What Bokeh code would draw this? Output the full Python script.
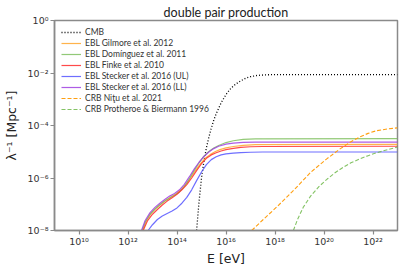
import numpy as np
from bokeh.plotting import figure
from bokeh.models import FixedTicker, Legend, LegendItem
from bokeh.embed import file_html
from bokeh.resources import INLINE

# ---- data (log10 of energy in eV, log10 of inverse mean free path in Mpc^-1) ----
cmb_logE = [14.80, 14.9, 15.0, 15.1, 15.2, 15.3, 15.4, 15.5, 15.6, 15.8, 16.0, 16.2, 16.4, 16.6, 16.8, 17.0, 17.3, 17.6, 18.0, 23.0]
cmb_logL = [-8.0, -6.9, -6.0, -5.35, -4.85, -4.45, -4.1, -3.8, -3.55, -3.14, -2.82, -2.58, -2.42, -2.30, -2.20, -2.14, -2.09, -2.07, -2.06, -2.06]

gil_logE = [12.6, 12.75, 12.95, 13.15, 13.35, 13.55, 13.75, 13.95, 14.15, 14.35, 14.55, 14.75, 14.95, 15.15, 15.35, 15.55, 15.75, 16.0, 16.3, 16.7, 17.2, 23.0]
gil_logL = [-8.0, -7.62, -7.34, -7.15, -6.99, -6.85, -6.72, -6.61, -6.46, -6.26, -6.00, -5.72, -5.46, -5.25, -5.11, -5.00, -4.92, -4.85, -4.80, -4.76, -4.73, -4.72]

dom_logE = [12.58, 12.7, 12.9, 13.1, 13.3, 13.5, 13.7, 13.9, 14.1, 14.3, 14.5, 14.7, 14.9, 15.1, 15.3, 15.5, 15.7, 16.0, 16.3, 16.7, 17.2, 23.0]
dom_logL = [-8.0, -7.68, -7.38, -7.18, -7.02, -6.88, -6.76, -6.66, -6.53, -6.32, -6.04, -5.72, -5.42, -5.17, -4.99, -4.86, -4.76, -4.65, -4.58, -4.53, -4.51, -4.50]

fin_logE = [12.62, 12.8, 13.0, 13.2, 13.4, 13.6, 13.8, 14.0, 14.2, 14.4, 14.6, 14.8, 15.0, 15.2, 15.4, 15.6, 15.8, 16.0, 16.3, 16.6, 17.0, 17.5, 23.0]
fin_logL = [-8.0, -7.62, -7.38, -7.20, -7.03, -6.88, -6.75, -6.62, -6.45, -6.25, -6.00, -5.72, -5.45, -5.25, -5.12, -5.04, -4.97, -4.92, -4.87, -4.83, -4.81, -4.80, -4.79]

ul_logE = [12.82, 13.0, 13.2, 13.4, 13.6, 13.8, 14.0, 14.2, 14.4, 14.6, 14.8, 15.0, 15.2, 15.4, 15.6, 15.8, 16.0, 16.3, 16.6, 17.0, 17.5, 23.0]
ul_logL = [-8.0, -7.78, -7.58, -7.45, -7.35, -7.26, -7.14, -6.96, -6.74, -6.45, -6.10, -5.77, -5.49, -5.30, -5.19, -5.12, -5.08, -5.05, -5.03, -5.02, -5.01, -5.01]

ll_logE = [12.55, 12.7, 12.9, 13.1, 13.3, 13.5, 13.7, 13.9, 14.1, 14.3, 14.5, 14.7, 14.9, 15.1, 15.3, 15.5, 15.7, 16.0, 16.3, 16.7, 17.2, 23.0]
ll_logL = [-8.0, -7.62, -7.32, -7.12, -6.96, -6.82, -6.69, -6.59, -6.45, -6.24, -5.96, -5.66, -5.40, -5.18, -5.01, -4.88, -4.79, -4.71, -4.67, -4.64, -4.63, -4.63]

nitu_logE = [17.05, 17.5, 18.12, 18.8, 19.46, 20.1, 20.67, 21.1, 21.47, 21.8, 22.14, 22.6, 23.0]
nitu_logL = [-8.0, -7.6, -7.06, -6.43, -5.78, -5.28, -4.88, -4.62, -4.43, -4.30, -4.20, -4.13, -4.09]

prot_logE = [18.75, 18.92, 19.15, 19.46, 19.8, 20.13, 20.45, 20.8, 21.1, 21.47, 21.8, 22.14, 22.6, 23.0]
prot_logL = [-8.0, -7.58, -7.12, -6.68, -6.32, -6.04, -5.80, -5.58, -5.42, -5.27, -5.15, -5.04, -4.92, -4.82]

series_labels = ["CMB", "EBL Gilmore et al. 2012", "EBL Domínguez et al. 2011",
                 "EBL Finke et al. 2010", "EBL Stecker et al. 2016 (UL)",
                 "EBL Stecker et al. 2016 (LL)", "CRB Niţu et al. 2021",
                 "CRB Protheroe & Biermann 1996"]

x_ticks = [1e10, 1e12, 1e14, 1e16, 1e18, 1e20, 1e22]
x_tick_labels = ["10¹⁰", "10¹²", "10¹⁴", "10¹⁶", "10¹⁸", "10²⁰", "10²²"]
y_ticks = [1e-8, 1e-6, 1e-4, 1e-2, 1e0]
y_tick_labels = ["10⁻⁸", "10⁻⁶", "10⁻⁴", "10⁻²", "10⁰"]

FONT = "Lato"
TICKFONT = "DejaVu Sans"
GRAY = "#8a8a8a"

p = figure(width=399, height=268, x_axis_type="log", y_axis_type="log",
           x_range=(1e9, 1e23), y_range=(1e-8, 1e0),
           output_backend="svg", toolbar_location=None,
           title="double pair production",
           min_border_left=48, min_border_right=2, min_border_top=20, min_border_bottom=34)

p.title.align = "center"
p.title.text_font = FONT
p.title.text_font_size = "12.5px"
p.title.text_font_style = "normal"
p.title.text_color = "#222222"
p.title.offset = 0
p.title.standoff = 2

p.xgrid.visible = False
p.ygrid.visible = False
p.outline_line_color = GRAY
p.outline_line_width = 1.5
p.background_fill_color = "white"
p.border_fill_color = "white"

for ax in (p.xaxis[0], p.yaxis[0]):
    ax.axis_line_color = GRAY
    ax.axis_line_width = 1.5
    ax.major_tick_line_color = GRAY
    ax.major_tick_line_width = 1.2
    ax.major_tick_out = 4
    ax.major_tick_in = 0
    ax.minor_tick_line_color = None
    ax.major_label_text_font = TICKFONT
    ax.major_label_text_font_size = "9.5px"
    ax.major_label_text_color = "#333333"
    ax.axis_label_text_font = TICKFONT
    ax.axis_label_text_font_size = "12.5px"
    ax.axis_label_text_font_style = "normal"
    ax.axis_label_text_color = "#222222"

p.xaxis[0].ticker = FixedTicker(ticks=x_ticks)
p.yaxis[0].ticker = FixedTicker(ticks=y_ticks)
p.xaxis[0].major_label_overrides = dict(zip(x_ticks, x_tick_labels))
p.yaxis[0].major_label_overrides = dict(zip(y_ticks, y_tick_labels))
p.xaxis[0].axis_label = "E [eV]"
p.yaxis[0].axis_label = "λ⁻¹ [Mpc⁻¹]"
p.xaxis[0].major_label_standoff = 1
p.yaxis[0].major_label_standoff = 2
p.xaxis[0].axis_label_standoff = 1
p.yaxis[0].axis_label_standoff = 6


def tolin(a):
    return 10.0 ** np.asarray(a, dtype=float)


specs = [
    (cmb_logE, cmb_logL, dict(line_color="black", line_width=1.3, line_dash="1 2")),
    (gil_logE, gil_logL, dict(line_color="#ffa62b", line_width=1.2, line_alpha=0.85)),
    (dom_logE, dom_logL, dict(line_color="#7fbf5f", line_width=1.2, line_alpha=0.85)),
    (fin_logE, fin_logL, dict(line_color="#ff2a2a", line_width=1.2, line_alpha=0.85)),
    (ul_logE, ul_logL, dict(line_color="#5555ff", line_width=1.2, line_alpha=0.85)),
    (ll_logE, ll_logL, dict(line_color="#a040e0", line_width=1.2, line_alpha=0.85)),
    (nitu_logE, nitu_logL, dict(line_color="#ff9f10", line_width=1.1, line_dash="4 2")),
    (prot_logE, prot_logL, dict(line_color="#6fb84a", line_width=1.1, line_dash="4 2", line_alpha=0.85)),
]

items = []
for (lx, ly, style), lab in zip(specs, series_labels):
    r = p.line(tolin(lx), tolin(ly), **style)
    items.append(LegendItem(label=lab, renderers=[r]))

legend = Legend(items=items, location="top_left")
legend.border_line_alpha = 0
legend.background_fill_alpha = 0
legend.label_text_font = FONT
legend.label_text_font_size = "8.5px"
legend.label_text_color = "#333333"
legend.label_height = 10
legend.glyph_height = 10
legend.glyph_width = 20
legend.spacing = 1
legend.padding = 4
legend.margin = 3
legend.label_standoff = 4
p.add_layout(legend, "center")

open("out.html", "w").write(file_html(p, INLINE))
